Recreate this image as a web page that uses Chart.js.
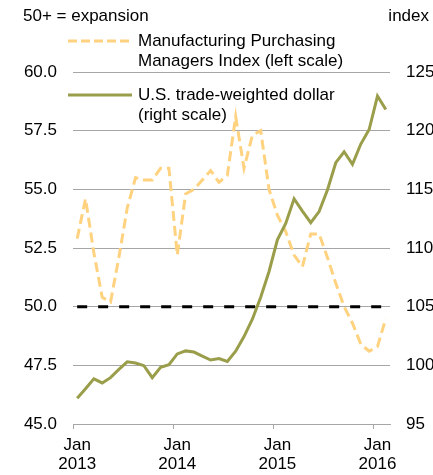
<!DOCTYPE html>
<html><head><meta charset="utf-8">
<script src="https://cdn.jsdelivr.net/npm/chart.js@4.4.0/dist/chart.umd.min.js"></script>
<style>html,body{margin:0;padding:0;background:#fff;} canvas{display:block;}</style>
</head><body>
<canvas id="c" width="433" height="475"></canvas>
<script>
const categories = [
  "Jan 2013","Feb 2013","Mar 2013","Apr 2013","May 2013","Jun 2013","Jul 2013","Aug 2013","Sep 2013","Oct 2013","Nov 2013","Dec 2013",
  "Jan 2014","Feb 2014","Mar 2014","Apr 2014","May 2014","Jun 2014","Jul 2014","Aug 2014","Sep 2014","Oct 2014","Nov 2014","Dec 2014",
  "Jan 2015","Feb 2015","Mar 2015","Apr 2015","May 2015","Jun 2015","Jul 2015","Aug 2015","Sep 2015","Oct 2015","Nov 2015","Dec 2015",
  "Jan 2016","Feb 2016"
];
const pmi = [
  52.9, 54.6, 52.3, 50.4, 50.2, 52.1, 54.2, 55.5, 55.4, 55.4, 55.9, 55.9,
  52.2, 54.8, 55.0, 55.4, 55.8, 55.3, 55.6, 58.1, 55.9, 57.3, 57.5, 55.0,
  53.9, 53.2, 52.2, 51.7, 53.1, 53.1, 52.1, 51.0, 50.0, 49.3, 48.4, 48.1,
  48.3, 49.5
];
const dollar = [
  97.2, 98.0, 98.85, 98.5, 98.95, 99.65, 100.3, 100.2, 99.97, 98.95, 99.83, 100.05,
  100.97, 101.23, 101.13, 100.78, 100.45, 100.58, 100.33, 101.2, 102.45, 103.93, 105.8, 108.0,
  110.7, 112.1, 114.2, 113.15, 112.16, 113.1, 114.94, 117.27, 118.2, 117.13, 118.86, 120.1,
  122.95, 121.8
];
const leftAxis = { min: 45, max: 60, step: 2.5 };
const rightAxis = { min: 95, max: 125, step: 5 };
const expansionLevel = 50;
const seriesNames = [["Manufacturing Purchasing", "Managers Index (left scale)"], ["U.S. trade-weighted dollar", "(right scale)"]];
const leftTitle = "50+ = expansion";
const rightTitle = "index";

const FONT = '"Liberation Sans", Arial, sans-serif';
const ORANGE = '#FFD27F';
const OLIVE = '#9A9D4A';
const GRID = '#A6A6A6';

const refLine = {
  id: 'refLine',
  beforeDatasetsDraw(chart) {
    const {ctx, scales} = chart;
    const y = scales.yL.getPixelForValue(expansionLevel);
    const x0 = scales.x.getPixelForValue(0);
    const x1 = scales.x.getPixelForValue(categories.length - 1);
    ctx.save();
    ctx.strokeStyle = '#000';
    ctx.lineWidth = 3;
    ctx.setLineDash([10, 11]);
    ctx.beginPath(); ctx.moveTo(x0, y); ctx.lineTo(x1, y); ctx.stroke();
    ctx.restore();
  }
};

const annotations = {
  id: 'annotations',
  afterDraw(chart) {
    const ctx = chart.ctx;
    ctx.save();
    ctx.font = '17px ' + FONT;
    ctx.fillStyle = '#000';
    ctx.textBaseline = 'middle';
    ctx.textAlign = 'left';
    ctx.fillText(leftTitle, 23, 16);
    ctx.textAlign = 'right';
    ctx.fillText(rightTitle, 429, 16);
    ctx.textAlign = 'left';
    // legend
    ctx.lineWidth = 3;
    ctx.strokeStyle = ORANGE;
    ctx.setLineDash([9, 4]);
    ctx.beginPath(); ctx.moveTo(68, 41); ctx.lineTo(132, 41); ctx.stroke();
    ctx.setLineDash([]);
    ctx.strokeStyle = OLIVE;
    ctx.beginPath(); ctx.moveTo(68, 95); ctx.lineTo(132, 95); ctx.stroke();
    ctx.fillText(seriesNames[0][0], 138, 41);
    ctx.fillText(seriesNames[0][1], 138, 61);
    ctx.fillText(seriesNames[1][0], 138, 95);
    ctx.fillText(seriesNames[1][1], 138, 115);
    ctx.restore();
  }
};

new Chart(document.getElementById('c'), {
  type: 'line',
  data: {
    labels: categories,
    datasets: [
      { label: seriesNames[0].join(' '), data: pmi, yAxisID: 'yL', borderColor: ORANGE, borderWidth: 3, borderDash: [10, 5], pointRadius: 0, tension: 0, fill: false, order: 2 },
      { label: seriesNames[1].join(' '), data: dollar, yAxisID: 'yR', borderColor: OLIVE, borderWidth: 3, pointRadius: 0, tension: 0, fill: false, order: 1 }
    ]
  },
  options: {
    responsive: false,
    animation: false,
    devicePixelRatio: 1,
    layout: { padding: { top: 72, left: 0, right: 0, bottom: 0 } },
    plugins: { legend: { display: false }, tooltip: { enabled: false } },
    scales: {
      x: {
        type: 'category',
        offset: true,
        border: { display: true, color: GRID, width: 1 },
        grid: {
          offset: true,
          drawOnChartArea: false,
          drawTicks: true,
          tickLength: 5,
          tickColor: (c) => (c.index % 12 === 0 ? GRID : 'rgba(0,0,0,0)'),
          color: GRID
        },
        ticks: {
          autoSkip: false, maxRotation: 0, minRotation: 0, padding: 7,
          color: '#000', font: { family: FONT, size: 17, lineHeight: 1.1 },
          callback: (v, i) => (categories[i].startsWith('Jan') ? categories[i].split(' ') : '')
        },
        afterFit: (s) => { s.height = 51; }
      },
      yL: {
        type: 'linear', position: 'left',
        min: leftAxis.min, max: leftAxis.max,
        border: { display: false },
        grid: { color: GRID, lineWidth: 1, drawTicks: false },
        ticks: { stepSize: leftAxis.step, padding: 16, color: '#000', font: { family: FONT, size: 17 }, callback: (v) => Number(v).toFixed(1) },
        afterFit: (s) => { s.width = 73; }
      },
      yR: {
        type: 'linear', position: 'right',
        min: rightAxis.min, max: rightAxis.max,
        border: { display: false },
        grid: { drawOnChartArea: false, drawTicks: false },
        ticks: { stepSize: rightAxis.step, padding: 16, color: '#000', font: { family: FONT, size: 17 } },
        afterFit: (s) => { s.width = 43; }
      }
    }
  },
  plugins: [refLine, annotations]
});
</script>
</body></html>
